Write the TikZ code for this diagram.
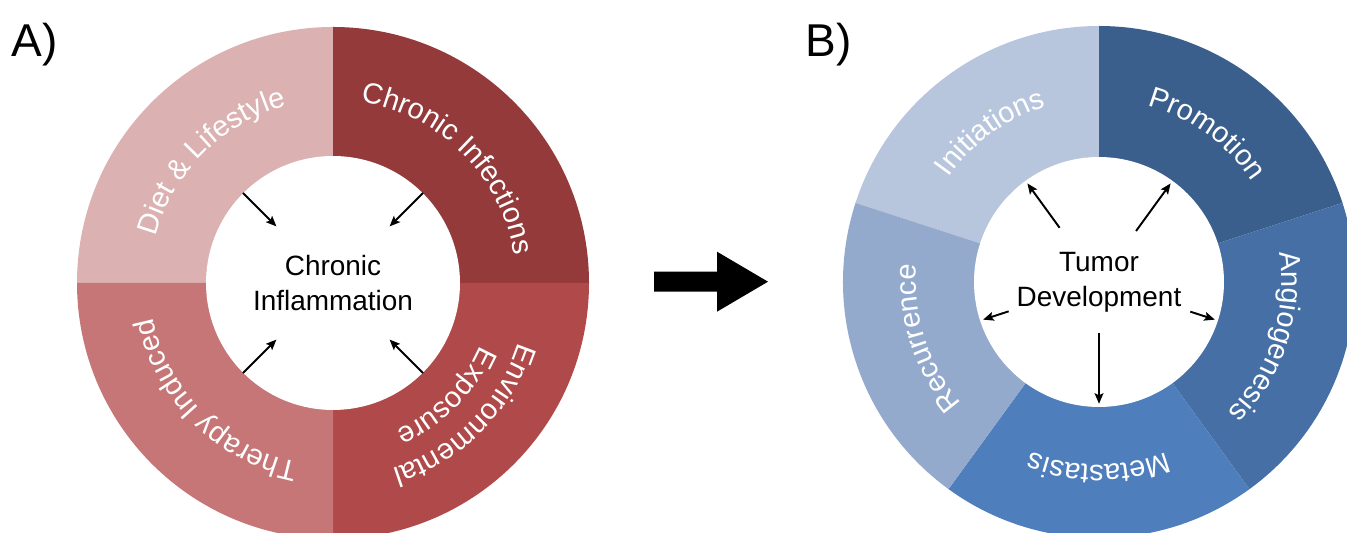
\documentclass[tikz,border=0pt]{standalone}
\usepackage{fontspec}
\setmainfont{Liberation Sans}
\usetikzlibrary{decorations.text,arrows.meta}

\definecolor{dietc}{HTML}{DBB1B1}
\definecolor{infc}{HTML}{953A3B}
\definecolor{envc}{HTML}{B04949}
\definecolor{therc}{HTML}{C67677}
\definecolor{inic}{HTML}{B8C6DD}
\definecolor{promc}{HTML}{3B5F8D}
\definecolor{angc}{HTML}{4670A5}
\definecolor{metc}{HTML}{4E7EBB}
\definecolor{recc}{HTML}{93AACC}

\newcommand{\ringfont}{\fontsize{16.5}{19}\selectfont}
\newcommand{\hubfont}{\fontsize{15.9}{19.9}\selectfont}

\tikzstyle{hub}=[circle,fill=white,inner sep=0pt,align=center,font=\hubfont]
\tikzstyle{small arrow}=[draw,line width=1.1pt,-{Stealth[length=6pt,width=5pt,inset=1.2pt]}]
\tikzstyle{ring text}=[decorate,decoration={text along path,text align=center,text color=white}]
\tikzstyle{panel}=[inner sep=0pt,anchor=base west,font=\fontsize{26.2}{30}\selectfont]

\begin{document}
\begin{tikzpicture}[x=0.02cm,y=0.02cm]
	\useasboundingbox (0,0) rectangle (1347,533);
	\node[panel] (pa) at (11,476) {A)};
	\node[panel] (pb) at (805,476) {B)};
	% A) causes of chronic inflammation
	\begin{scope}[shift={(333,250)}]
		\foreach \a/\b/\col in {90/180/dietc, 0/90/infc, -90/0/envc, 180/270/therc}
			\fill[\col] (0,0) -- (\a:256) arc[start angle=\a, end angle=\b, radius=256] -- cycle;
		\node[hub,minimum size=5.08cm] (infl) at (0,0) {Chronic\\Inflammation};
		% arrows point into the hub
		\foreach \a in {45,135,225,315} {
			\coordinate (in\a) at (\a:80);
			\path[small arrow] (infl.\a) -- (in\a);
		}
		\path[ring text,decoration={text={|\ringfont|Diet {\&} Lifestyle}}] (180:183) arc[start angle=180, end angle=90, radius=183];
		\path[ring text,decoration={text={|\ringfont|Chronic Infections}}] (90:183) arc[start angle=90, end angle=0, radius=183];
		\path[ring text,decoration={text={|\ringfont|Environmental}}] (0:195) arc[start angle=0, end angle=-90, radius=195];
		\path[ring text,decoration={text={|\ringfont|Exposure}}] (0:160) arc[start angle=0, end angle=-90, radius=160];
		\path[ring text,decoration={text={|\ringfont|Therapy Induced}}] (270:183) arc[start angle=270, end angle=180, radius=183];
	\end{scope}
	% big arrow between the panels
	\fill (654,261.3) -- (717,261.3) -- (717,281.3) -- (768,251.3) -- (717,221.3) -- (717,241.3) -- (654,241.3) -- cycle;
	% B) stages of tumor development
	\begin{scope}[shift={(1099,251)}]
		\foreach \a/\b/\col in {90/162/inic, 18/90/promc, -54/18/angc, 234/306/metc, 162/234/recc}
			\fill[\col] (0,0) -- (\a:256) arc[start angle=\a, end angle=\b, radius=256] -- cycle;
		\node[hub,minimum size=5cm] (tumor) at (0,0) {Tumor\\Development};
		% arrows point out of the hub
		\foreach \n/\a/\s in {ini/126/67, pro/54/63, ang/342/96, met/270/51, rec/198/95} {
			\coordinate (\n-from) at (\a:\s);
			\path[small arrow,shorten >=2pt] (\n-from) -- (tumor.\a);
		}
		\path[ring text,decoration={text={|\ringfont|Initiations}}] (162:183) arc[start angle=162, end angle=90, radius=183];
		\path[ring text,decoration={text={|\ringfont|Promotion}}] (90:183) arc[start angle=90, end angle=18, radius=183];
		\path[ring text,decoration={text={|\ringfont|Angiogenesis}}] (18:183) arc[start angle=18, end angle=-54, radius=183];
		\path[ring text,decoration={text={|\ringfont|Metastasis}}] (-54:183) arc[start angle=-54, end angle=-126, radius=183];
		\path[ring text,decoration={text={|\ringfont|Recurrence}}] (234:183) arc[start angle=234, end angle=162, radius=183];
	\end{scope}
\end{tikzpicture}
\end{document}
